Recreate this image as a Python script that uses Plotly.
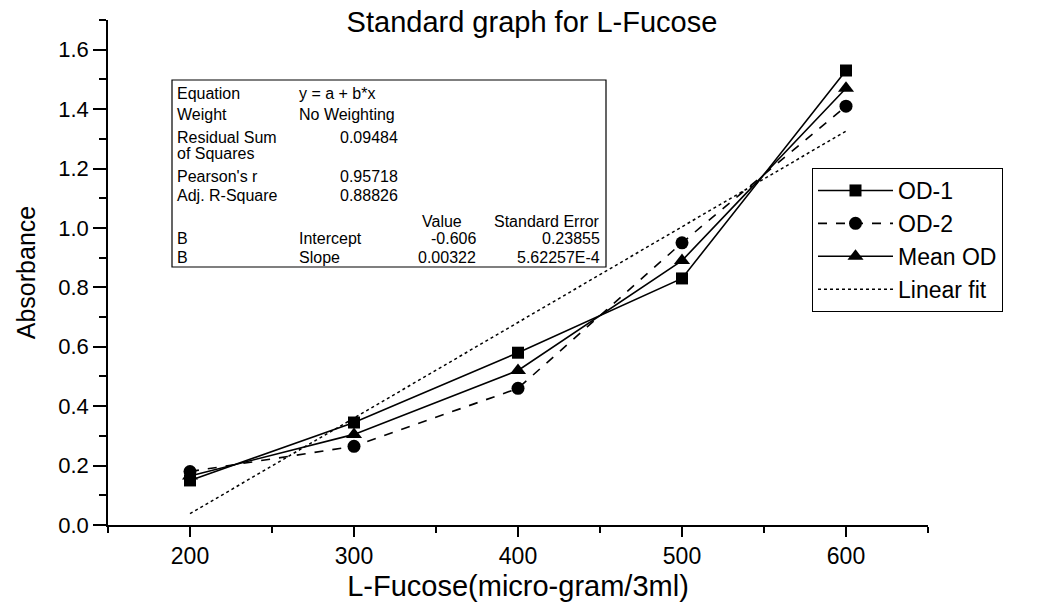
import numpy as np
import plotly.graph_objects as go

# ---- data ----
concentration = [200, 300, 400, 500, 600]
od1 = [0.15, 0.345, 0.58, 0.83, 1.53]
od2 = [0.18, 0.265, 0.46, 0.95, 1.41]
mean_od = [0.165, 0.305, 0.52, 0.89, 1.47]

fit_intercept = -0.606
fit_slope = 0.00322
fit_x = [200, 600]

eq_labels = ["Equation", "Weight", "Residual Sum", "of Squares", "Pearson's r", "Adj. R-Square"]
eq_texts = ["y = a + b*x", "No Weighting", "", "", "", ""]
eq_values = ["", "", "0.09484", "", "0.95718", "0.88826"]
param_header = ["Value", "Standard Error"]
param_group = ["B", "B"]
param_names = ["Intercept", "Slope"]
param_values = ["-0.606", "0.00322"]
param_errors = ["0.23855", "5.62257E-4"]

FONT = "Liberation Sans, Arial, Helvetica, sans-serif"

# plot-area geometry (pixels)
L, R, T, B = 108, 928, 20, 525
W, H = 1043, 602


def px(x):
    return (x - L) / (R - L)


def py(y):
    return (B - y) / (B - T)


fig = go.Figure()

fig.add_trace(go.Scatter(
    x=concentration, y=od1, name="OD-1", mode="lines+markers",
    line=dict(color="black", width=1.6),
    marker=dict(symbol="square", size=12, color="black"),
))
fig.add_trace(go.Scatter(
    x=concentration, y=od2, name="OD-2", mode="lines+markers",
    line=dict(color="black", width=1.6, dash="dash"),
    marker=dict(symbol="circle", size=13, color="black"),
))
fig.add_trace(go.Scatter(
    x=concentration, y=mean_od, name="Mean OD", mode="lines+markers",
    line=dict(color="black", width=1.6),
    marker=dict(symbol="triangle-up", size=14, color="black"),
))
fx = np.array(fit_x, dtype=float)
fig.add_trace(go.Scatter(
    x=fx, y=fit_intercept + fit_slope * fx, name="Linear fit", mode="lines",
    line=dict(color="black", width=1.5, dash="dot"),
))

# ---- statistics box ----
annotations = []
row_y = [93, 114, 137, 153, 176, 195]
for lab, txt, val, yy in zip(eq_labels, eq_texts, eq_values, row_y):
    annotations.append(dict(x=px(175), y=py(yy), text=lab, xanchor="left"))
    if txt:
        annotations.append(dict(x=px(297), y=py(yy), text=txt, xanchor="left"))
    if val:
        annotations.append(dict(x=px(400), y=py(yy), text=val, xanchor="right"))
annotations.append(dict(x=px(442), y=py(221), text=param_header[0], xanchor="center"))
annotations.append(dict(x=px(602), y=py(221), text=param_header[1], xanchor="right"))
for g, n, v, e, yy in zip(param_group, param_names, param_values, param_errors, [238, 257]):
    annotations.append(dict(x=px(175), y=py(yy), text=g, xanchor="left"))
    annotations.append(dict(x=px(297), y=py(yy), text=n, xanchor="left"))
    annotations.append(dict(x=px(478), y=py(yy), text=v, xanchor="right"))
    annotations.append(dict(x=px(602), y=py(yy), text=e, xanchor="right"))
for a in annotations:
    a.update(xref="paper", yref="paper", yanchor="middle", showarrow=False,
             font=dict(family=FONT, size=16, color="black"))

fig.update_layout(
    width=W, height=H,
    margin=dict(l=L, r=W - R, t=T, b=H - B),
    paper_bgcolor="white", plot_bgcolor="white",
    font=dict(family=FONT, color="black"),
    title=dict(text="Standard graph for L-Fucose", x=532 / W, xref="container",
               xanchor="center", y=1 - 22 / H, yref="container", yanchor="middle",
               font=dict(family=FONT, size=29, color="black")),
    showlegend=True,
    legend=dict(x=px(812), y=py(168), xanchor="left", yanchor="top",
                bordercolor="black", borderwidth=1, bgcolor="white",
                font=dict(family=FONT, size=23, color="black"),
                itemwidth=75, tracegroupgap=0),
    annotations=annotations,
    shapes=[dict(type="rect", xref="paper", yref="paper",
                 x0=px(172), x1=px(606), y0=py(267), y1=py(80),
                 line=dict(color="black", width=1.2), fillcolor="rgba(0,0,0,0)")],
)

fig.update_xaxes(
    range=[150, 650], tick0=0, dtick=100,
    showline=True, linecolor="black", linewidth=1.5,
    ticks="outside", ticklen=10, tickwidth=1.5, tickcolor="black",
    minor=dict(dtick=50, ticks="outside", ticklen=6, tickwidth=1.5, tickcolor="black"),
    showgrid=False, zeroline=False,
    tickfont=dict(family=FONT, size=23, color="black"),
    title=dict(text="L-Fucose(micro-gram/3ml)", standoff=12,
               font=dict(family=FONT, size=29, color="black")),
    automargin=False,
)
fig.update_yaxes(
    range=[0, 1.7], tick0=0, dtick=0.2, tickformat=".1f",
    showline=True, linecolor="black", linewidth=1.5,
    ticks="outside", ticklen=13, tickwidth=1.5, tickcolor="black",
    minor=dict(dtick=0.1, ticks="outside", ticklen=7, tickwidth=1.5, tickcolor="black"),
    showgrid=False, zeroline=False,
    tickfont=dict(family=FONT, size=22, color="black"),
    title=dict(text="Absorbance", standoff=16,
               font=dict(family=FONT, size=25, color="black")),
    automargin=False,
)

fig.write_html("out.html")
